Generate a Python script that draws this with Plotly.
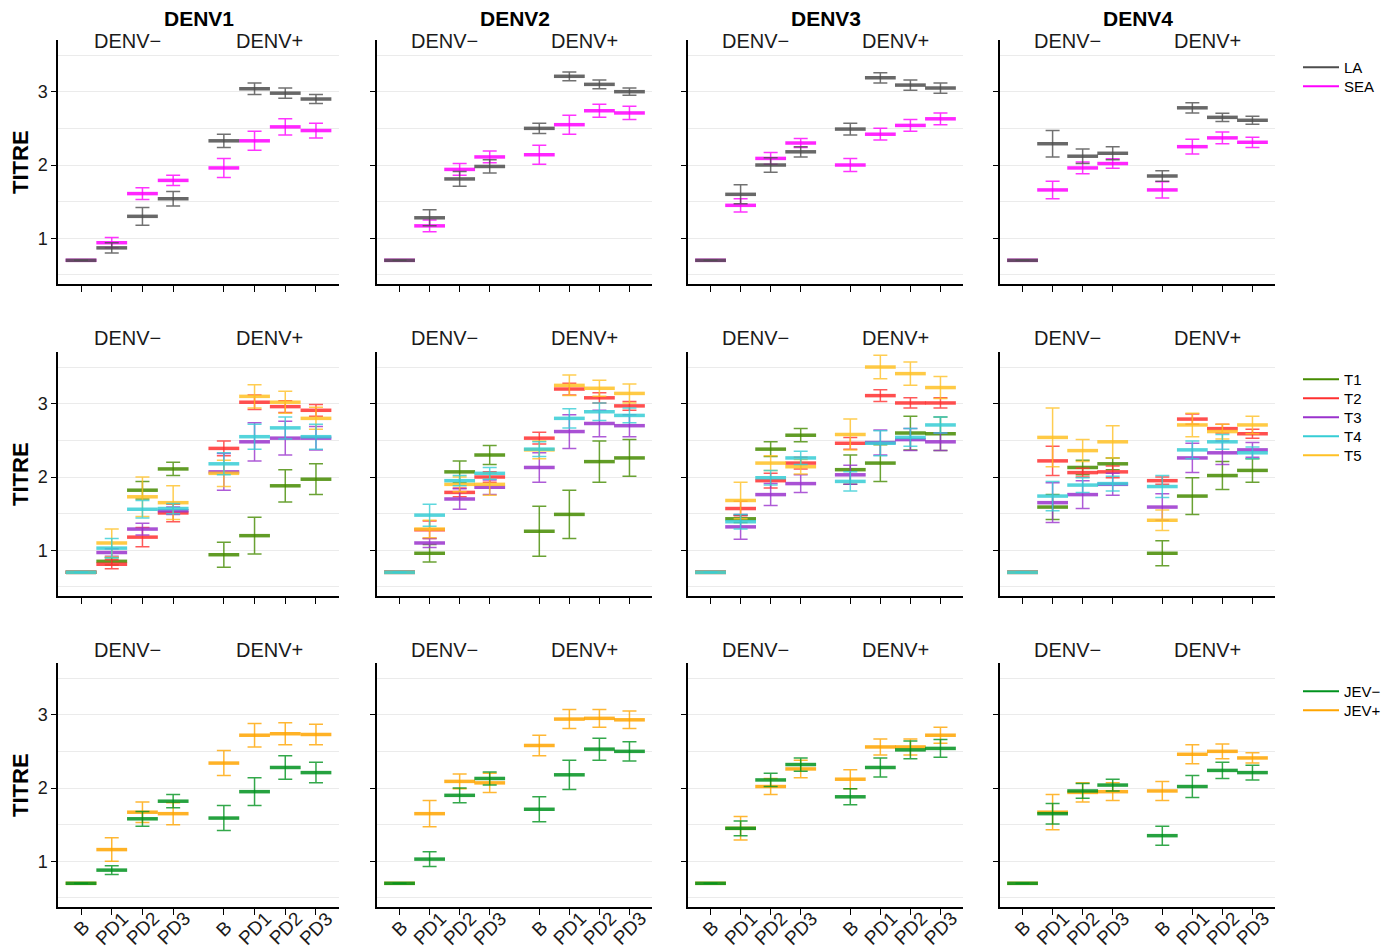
import plotly.graph_objects as go

SEROTYPES = ["DENV1", "DENV2", "DENV3", "DENV4"]
TIMEPOINTS = ["B", "PD1", "PD2", "PD3", "B", "PD1", "PD2", "PD3"]
STATUS = ["DENV\u2212", "DENV+"]

# ---- Row 1: LA vs SEA ----
LA_MEAN = {
    "DENV1": [0.70, 0.87, 1.30, 1.54, 2.33, 3.04, 2.98, 2.90],
    "DENV2": [0.70, 1.28, 1.81, 1.98, 2.50, 3.21, 3.10, 3.00],
    "DENV3": [0.70, 1.60, 2.00, 2.18, 2.49, 3.19, 3.09, 3.05],
    "DENV4": [0.70, 2.29, 2.12, 2.16, 1.85, 2.78, 2.65, 2.61]}
LA_ERR = {
    "DENV1": [0, 0.07, 0.12, 0.10, 0.09, 0.08, 0.07, 0.06],
    "DENV2": [0, 0.11, 0.10, 0.09, 0.07, 0.06, 0.06, 0.05],
    "DENV3": [0, 0.13, 0.10, 0.07, 0.08, 0.07, 0.07, 0.07],
    "DENV4": [0, 0.18, 0.10, 0.09, 0.07, 0.07, 0.055, 0.055]}
SEA_MEAN = {
    "DENV1": [0.70, 0.94, 1.61, 1.79, 1.96, 2.33, 2.52, 2.47],
    "DENV2": [0.70, 1.17, 1.94, 2.11, 2.14, 2.55, 2.74, 2.71],
    "DENV3": [0.70, 1.45, 2.09, 2.30, 2.00, 2.42, 2.54, 2.63],
    "DENV4": [0.70, 1.66, 1.96, 2.02, 1.66, 2.25, 2.37, 2.31]}
SEA_ERR = {
    "DENV1": [0, 0.07, 0.08, 0.07, 0.13, 0.13, 0.11, 0.10],
    "DENV2": [0, 0.08, 0.08, 0.08, 0.13, 0.13, 0.09, 0.09],
    "DENV3": [0, 0.09, 0.08, 0.06, 0.09, 0.08, 0.08, 0.08],
    "DENV4": [0, 0.12, 0.08, 0.065, 0.11, 0.10, 0.08, 0.07]}

# ---- Row 2: T1..T5 ----
T1_MEAN = {
    "DENV1": [0.70, 0.85, 1.82, 2.11, 0.94, 1.20, 1.88, 1.97],
    "DENV2": [0.70, 0.96, 2.07, 2.30, 1.26, 1.49, 2.21, 2.26],
    "DENV3": [0.70, 1.43, 2.38, 2.57, 2.10, 2.19, 2.60, 2.59],
    "DENV4": [0.70, 1.59, 2.13, 2.18, 0.96, 1.74, 2.02, 2.09]}
T1_ERR = {
    "DENV1": [0, 0.05, 0.12, 0.09, 0.17, 0.25, 0.22, 0.21],
    "DENV2": [0, 0.12, 0.15, 0.13, 0.34, 0.33, 0.28, 0.25],
    "DENV3": [0, 0.05, 0.10, 0.09, 0.20, 0.25, 0.23, 0.23],
    "DENV4": [0, 0.17, 0.10, 0.08, 0.17, 0.25, 0.19, 0.16]}
T2_MEAN = {
    "DENV1": [0.70, 0.81, 1.18, 1.51, 2.39, 3.02, 2.96, 2.91],
    "DENV2": [0.70, 1.28, 1.79, 2.00, 2.53, 3.20, 3.08, 2.97],
    "DENV3": [0.70, 1.57, 1.95, 2.19, 2.46, 3.11, 3.01, 3.01],
    "DENV4": [0.70, 2.22, 2.06, 2.07, 1.95, 2.79, 2.66, 2.59]}
T2_ERR = {
    "DENV1": [0, 0.06, 0.13, 0.12, 0.10, 0.10, 0.08, 0.08],
    "DENV2": [0, 0.12, 0.06, 0.07, 0.08, 0.08, 0.07, 0.06],
    "DENV3": [0, 0.10, 0.10, 0.08, 0.08, 0.08, 0.07, 0.07],
    "DENV4": [0, 0.20, 0.06, 0.08, 0.05, 0.07, 0.06, 0.06]}
T3_MEAN = {
    "DENV1": [0.70, 0.97, 1.29, 1.54, 2.07, 2.48, 2.53, 2.53],
    "DENV2": [0.70, 1.10, 1.70, 1.86, 2.13, 2.62, 2.73, 2.70],
    "DENV3": [0.70, 1.32, 1.76, 1.91, 2.03, 2.47, 2.51, 2.48],
    "DENV4": [0.70, 1.65, 1.76, 1.90, 1.59, 2.26, 2.33, 2.37]}
T3_ERR = {
    "DENV1": [0, 0.05, 0.08, 0.05, 0.25, 0.26, 0.23, 0.16],
    "DENV2": [0, 0.06, 0.14, 0.10, 0.20, 0.23, 0.18, 0.15],
    "DENV3": [0, 0.17, 0.15, 0.12, 0.13, 0.17, 0.15, 0.12],
    "DENV4": [0, 0.27, 0.19, 0.15, 0.18, 0.20, 0.16, 0.10]}
T4_MEAN = {
    "DENV1": [0.70, 1.03, 1.56, 1.57, 2.18, 2.55, 2.67, 2.55],
    "DENV2": [0.70, 1.48, 1.95, 2.05, 2.38, 2.80, 2.89, 2.84],
    "DENV3": [0.70, 1.39, 1.99, 2.26, 1.94, 2.46, 2.54, 2.71],
    "DENV4": [0.70, 1.74, 1.89, 1.91, 1.87, 2.37, 2.48, 2.33]}
T4_ERR = {
    "DENV1": [0, 0.13, 0.12, 0.07, 0.15, 0.17, 0.15, 0.17],
    "DENV2": [0, 0.15, 0.07, 0.08, 0.10, 0.13, 0.12, 0.10],
    "DENV3": [0, 0.10, 0.10, 0.09, 0.13, 0.17, 0.12, 0.11],
    "DENV4": [0, 0.20, 0.10, 0.10, 0.15, 0.12, 0.10, 0.08]}
T5_MEAN = {
    "DENV1": [0.70, 1.10, 1.73, 1.65, 2.05, 3.10, 3.02, 2.80],
    "DENV2": [0.70, 1.29, 1.90, 1.90, 2.37, 3.25, 3.21, 3.14],
    "DENV3": [0.70, 1.68, 2.19, 2.14, 2.58, 3.50, 3.41, 3.22],
    "DENV4": [0.70, 2.54, 2.36, 2.48, 1.41, 2.71, 2.62, 2.71]}
T5_ERR = {
    "DENV1": [0, 0.19, 0.27, 0.23, 0.18, 0.16, 0.15, 0.15],
    "DENV2": [0, 0.12, 0.10, 0.15, 0.12, 0.14, 0.11, 0.13],
    "DENV3": [0, 0.25, 0.10, 0.10, 0.21, 0.16, 0.16, 0.15],
    "DENV4": [0, 0.40, 0.15, 0.22, 0.14, 0.16, 0.10, 0.12]}

# ---- Row 3: JEV- vs JEV+ ----
JEVN_MEAN = {
    "DENV1": [0.70, 0.88, 1.58, 1.82, 1.59, 1.95, 2.28, 2.21],
    "DENV2": [0.70, 1.03, 1.90, 2.13, 1.71, 2.18, 2.53, 2.50],
    "DENV3": [0.70, 1.45, 2.11, 2.32, 1.88, 2.28, 2.52, 2.54],
    "DENV4": [0.70, 1.65, 1.96, 2.04, 1.35, 2.02, 2.24, 2.21]}
JEVN_ERR = {
    "DENV1": [0, 0.06, 0.10, 0.09, 0.17, 0.19, 0.16, 0.14],
    "DENV2": [0, 0.10, 0.10, 0.09, 0.17, 0.20, 0.15, 0.13],
    "DENV3": [0, 0.10, 0.09, 0.09, 0.11, 0.13, 0.12, 0.12],
    "DENV4": [0, 0.14, 0.10, 0.08, 0.13, 0.15, 0.11, 0.10]}
JEVP_MEAN = {
    "DENV1": [0.70, 1.16, 1.67, 1.65, 2.34, 2.72, 2.74, 2.73],
    "DENV2": [0.70, 1.65, 2.09, 2.07, 2.58, 2.94, 2.95, 2.93],
    "DENV3": [0.70, 1.45, 2.02, 2.26, 2.12, 2.56, 2.56, 2.72],
    "DENV4": [0.70, 1.67, 1.94, 1.95, 1.96, 2.46, 2.50, 2.41]}
JEVP_ERR = {
    "DENV1": [0, 0.16, 0.14, 0.15, 0.17, 0.16, 0.15, 0.14],
    "DENV2": [0, 0.18, 0.10, 0.13, 0.14, 0.13, 0.12, 0.12],
    "DENV3": [0, 0.16, 0.11, 0.12, 0.13, 0.11, 0.11, 0.11],
    "DENV4": [0, 0.24, 0.13, 0.12, 0.13, 0.13, 0.10, 0.07]}

ROWS = [
    [("LA", "#4D4D4D", LA_MEAN, LA_ERR), ("SEA", "#FF00FF", SEA_MEAN, SEA_ERR)],
    [("T1", "#458B00", T1_MEAN, T1_ERR), ("T2", "#FF3030", T2_MEAN, T2_ERR),
     ("T3", "#9A32CD", T3_MEAN, T3_ERR), ("T4", "#36CDD5", T4_MEAN, T4_ERR),
     ("T5", "#FFC125", T5_MEAN, T5_ERR)],
    [("JEV\u2212", "#00921E", JEVN_MEAN, JEVN_ERR), ("JEV+", "#FFA500", JEVP_MEAN, JEVP_ERR)],
]
DRAW_ORDER = [[1, 0], [0, 1, 2, 4, 3], [1, 0]]

# ---- layout geometry (pixels) ----
W, H = 1396, 949
COLS_PX = [(58, 339), (377, 652), (688, 963), (1000, 1275)]
ROWS_PX = [(40, 284), (352, 596), (663, 907)]
STATUS_Y = [41, 338, 650]
LEGEND_Y = [[67, 86], [379, 398, 417, 436, 455], [691, 710]]
XPOS = [1, 2, 3, 4, 5.65, 6.65, 7.65, 8.65]
XRANGE = [0.25, 9.4]
YRANGE = [0.377, 3.705]
FONT = "Liberation Sans, Arial, sans-serif"


def rgba(hexc, a):
    h = hexc.lstrip("#")
    return "rgba(%d,%d,%d,%.2f)" % (int(h[0:2], 16), int(h[2:4], 16), int(h[4:6], 16), a)


fig = go.Figure()
layout = dict(width=W, height=H, margin=dict(l=0, r=0, t=0, b=0),
              paper_bgcolor="white", plot_bgcolor="white",
              font=dict(family=FONT, color="black"), showlegend=True)
annotations = []

for r in range(3):
    for c in range(4):
        idx = r * 4 + c + 1
        sfx = "" if idx == 1 else str(idx)
        x0, x1 = COLS_PX[c]
        y0, y1 = ROWS_PX[r]
        layout["xaxis" + sfx] = dict(
            domain=[x0 / W, x1 / W], range=XRANGE, anchor="y" + sfx,
            tickmode="array", tickvals=XPOS, ticktext=TIMEPOINTS,
            showticklabels=False, ticks="outside", ticklen=6, tickwidth=1.3,
            tickcolor="black", showline=True, linecolor="black", linewidth=1.5,
            showgrid=False, zeroline=False, fixedrange=True)
        layout["yaxis" + sfx] = dict(
            domain=[1 - y1 / H, 1 - y0 / H], range=YRANGE, anchor="x" + sfx,
            tickmode="linear", tick0=0, dtick=1, showticklabels=(c == 0),
            tickfont=dict(size=18, color="#1a1a1a"),
            ticks="outside", ticklen=5, tickwidth=1.3, tickcolor="black",
            showline=True, linecolor="black", linewidth=1.5,
            showgrid=True, gridcolor="#EBEBEB", gridwidth=1,
            minor=dict(tick0=0, dtick=0.5, showgrid=True, gridcolor="#EBEBEB",
                       gridwidth=1, ticks=""),
            zeroline=False, fixedrange=True)
        sero = SEROTYPES[c]
        for k in DRAW_ORDER[r]:
            name, col, mean, err = ROWS[r][k]
            fig.add_trace(go.Scatter(
                x=XPOS, y=mean[sero], mode="markers", name=name,
                xaxis="x" + sfx, yaxis="y" + sfx, showlegend=False,
                hoverinfo="skip",
                marker=dict(symbol="line-ew", size=22, color=col,
                            line=dict(width=3.5, color=rgba(col, 0.85))),
                error_y=dict(type="data", array=err[sero], visible=True,
                             color=rgba(col, 0.8), thickness=1.5, width=7)))
        ymid = 1 - STATUS_Y[r] / H
        annotations.append(dict(text=STATUS[0], x=2.5, xref="x" + sfx, y=ymid, yref="paper",
                                showarrow=False, font=dict(size=20, color="#1a1a1a"),
                                xanchor="center", yanchor="middle"))
        annotations.append(dict(text=STATUS[1], x=7.15, xref="x" + sfx, y=ymid, yref="paper",
                                showarrow=False, font=dict(size=20, color="#1a1a1a"),
                                xanchor="center", yanchor="middle"))
        if r == 0:
            annotations.append(dict(text="<b>" + sero + "</b>", x=(x0 + x1) / 2 / W, xref="paper",
                                    y=1 - 19 / H, yref="paper", showarrow=False,
                                    font=dict(size=21), xanchor="center", yanchor="middle"))
        if r == 2:
            for xp, lab in zip(XPOS, TIMEPOINTS):
                annotations.append(dict(text=lab, x=xp, xref="x" + sfx, y=1 - 928 / H,
                                        yref="paper", showarrow=False, textangle=-45,
                                        font=dict(size=19, color="#1a1a1a"),
                                        xanchor="center", yanchor="middle"))
    annotations.append(dict(text="<b>TITRE</b>", x=20 / W, xref="paper",
                            y=1 - (ROWS_PX[r][0] + ROWS_PX[r][1]) / 2 / H, yref="paper",
                            showarrow=False, textangle=-90, font=dict(size=22),
                            xanchor="center", yanchor="middle"))

# legend entries: one small legend per entry, so spacing matches the reference
n_leg = 0
for r in range(3):
    for (name, col, _, _), ycen in zip(ROWS[r], LEGEND_Y[r]):
        n_leg += 1
        lname = "legend" if n_leg == 1 else "legend%d" % n_leg
        fig.add_trace(go.Scatter(x=[None], y=[None], mode="lines", name=name,
                                 line=dict(color=col, width=2.2), legend=lname,
                                 showlegend=True, hoverinfo="skip"))
        layout[lname] = dict(x=1298 / W, y=1 - (ycen - 16) / H, xanchor="left", yanchor="top",
                             font=dict(size=15, family=FONT), bgcolor="rgba(0,0,0,0)",
                             itemwidth=36)

layout["annotations"] = annotations
fig.update_layout(**layout)
fig.write_html("out.html")
